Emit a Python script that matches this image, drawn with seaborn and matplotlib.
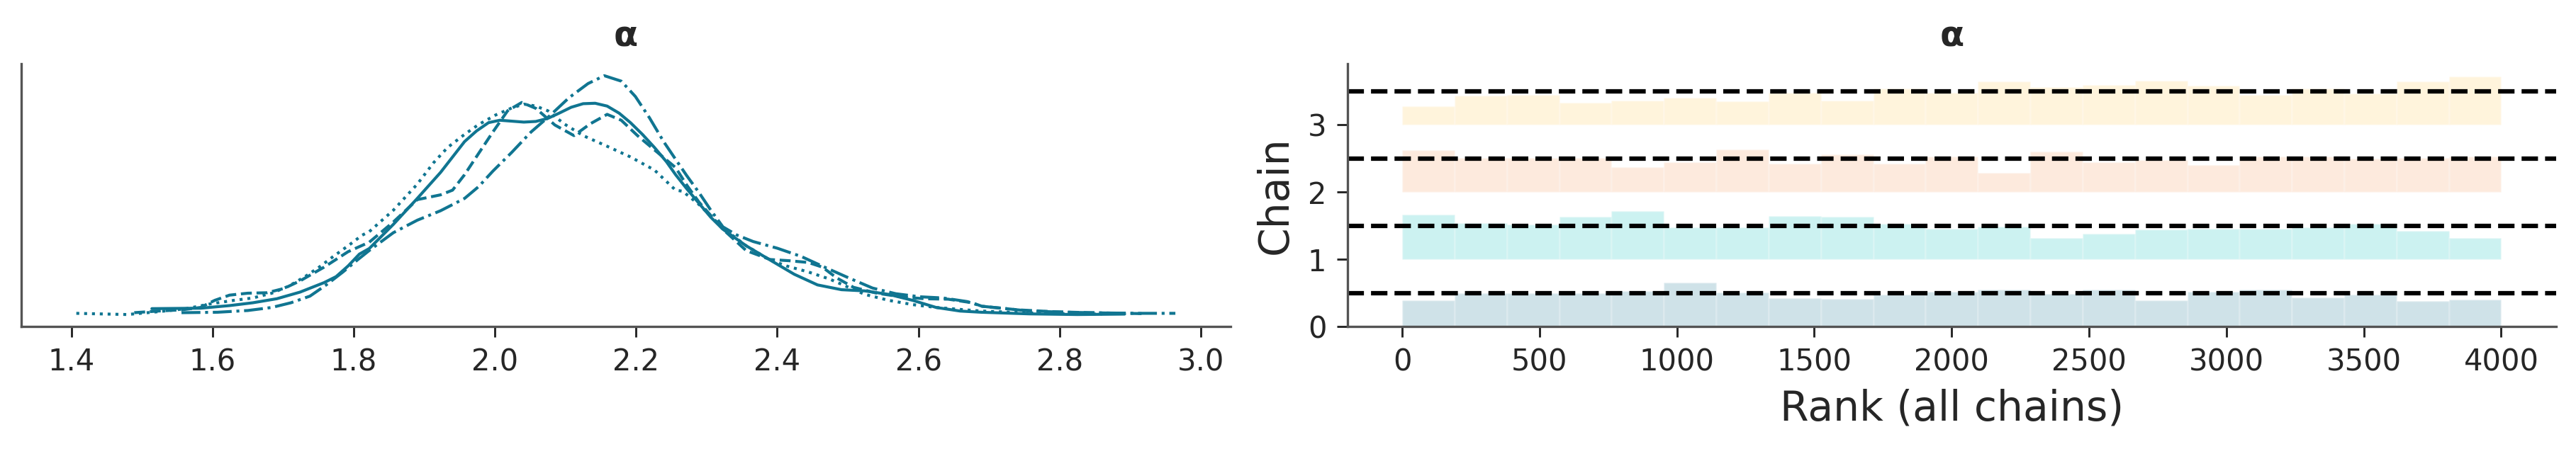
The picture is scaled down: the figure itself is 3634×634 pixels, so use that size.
import matplotlib
matplotlib.use("Agg")
import matplotlib.pyplot as plt
import numpy as np
import pandas as pd
import seaborn as sns

# KDE of alpha per chain
chain0_x = [1.514, 1.583, 1.624, 1.657, 1.691, 1.724, 1.758, 1.775, 1.792, 1.808, 1.822, 1.856, 1.890,
            1.923, 1.957, 1.974, 1.991, 2.007, 2.041, 2.058, 2.075, 2.091, 2.108, 2.125, 2.142, 2.159,
            2.176, 2.192, 2.209, 2.226, 2.243, 2.256, 2.272, 2.289, 2.306, 2.323, 2.356, 2.390, 2.424,
            2.457, 2.491, 2.524, 2.558, 2.592, 2.625, 2.659, 2.689, 2.757, 2.825, 2.892]
chain0_dens = [0.058, 0.062, 0.086, 0.112, 0.149, 0.210, 0.297, 0.352, 0.450, 0.559, 0.610, 0.831, 1.070,
               1.309, 1.592, 1.690, 1.766, 1.788, 1.771, 1.777, 1.805, 1.853, 1.907, 1.940, 1.944, 1.918,
               1.853, 1.766, 1.658, 1.538, 1.407, 1.288, 1.157, 1.026, 0.896, 0.787, 0.635, 0.504, 0.374,
               0.276, 0.232, 0.221, 0.189, 0.134, 0.069, 0.036, 0.025, 0.010, 0.004, 0.008]

chain1_x = [1.489, 1.523, 1.556, 1.583, 1.603, 1.624, 1.650, 1.677, 1.701, 1.724, 1.758, 1.792, 1.822,
            1.856, 1.890, 1.923, 1.940, 1.957, 1.977, 1.997, 2.018, 2.038, 2.058, 2.085, 2.112, 2.135,
            2.159, 2.179, 2.202, 2.226, 2.256, 2.272, 2.289, 2.323, 2.356, 2.390, 2.417, 2.444, 2.464,
            2.484, 2.508, 2.541, 2.575, 2.608, 2.642, 2.676, 2.690, 2.741, 2.791, 2.841, 2.892, 2.920]
chain1_dens = [0.021, 0.036, 0.047, 0.069, 0.134, 0.182, 0.200, 0.204, 0.243, 0.313, 0.439, 0.581, 0.668,
               0.853, 1.059, 1.103, 1.146, 1.288, 1.484, 1.679, 1.875, 1.951, 1.897, 1.744, 1.647, 1.755,
               1.842, 1.788, 1.647, 1.516, 1.353, 1.190, 1.037, 0.787, 0.591, 0.509, 0.498, 0.482, 0.439,
               0.341, 0.254, 0.200, 0.167, 0.149, 0.145, 0.112, 0.080, 0.047, 0.030, 0.021, 0.015, 0.012]

chain2_x = [1.407, 1.439, 1.479, 1.523, 1.563, 1.597, 1.630, 1.657, 1.684, 1.708, 1.731, 1.751, 1.771,
            1.792, 1.812, 1.822, 1.856, 1.890, 1.913, 1.933, 1.957, 1.977, 2.001, 2.024, 2.041, 2.058,
            2.075, 2.098, 2.125, 2.159, 2.192, 2.226, 2.256, 2.266, 2.289, 2.323, 2.356, 2.390, 2.413,
            2.444, 2.474, 2.501, 2.524, 2.558, 2.592, 2.625, 2.659, 2.689, 2.757, 2.820, 2.860]
chain2_dens = [0.015, 0.010, 0.004, 0.030, 0.058, 0.102, 0.134, 0.156, 0.200, 0.265, 0.352, 0.439, 0.537,
               0.635, 0.733, 0.765, 0.961, 1.201, 1.397, 1.538, 1.658, 1.749, 1.836, 1.901, 1.936, 1.918,
               1.875, 1.755, 1.647, 1.549, 1.451, 1.331, 1.146, 1.136, 1.015, 0.798, 0.635, 0.504, 0.450,
               0.395, 0.330, 0.254, 0.189, 0.134, 0.095, 0.069, 0.051, 0.036, 0.019, 0.010, 0.008]

chain3_x = [1.556, 1.607, 1.650, 1.684, 1.711, 1.738, 1.761, 1.785, 1.805, 1.822, 1.856, 1.890, 1.923,
            1.957, 1.977, 1.997, 2.024, 2.051, 2.078, 2.105, 2.132, 2.155, 2.179, 2.199, 2.219, 2.239,
            2.256, 2.272, 2.289, 2.306, 2.323, 2.343, 2.366, 2.400, 2.434, 2.467, 2.501, 2.535, 2.568,
            2.602, 2.635, 2.669, 2.690, 2.724, 2.757, 2.808, 2.858, 2.909, 2.964]
chain3_dens = [0.021, 0.025, 0.041, 0.069, 0.112, 0.173, 0.276, 0.396, 0.504, 0.592, 0.755, 0.870, 0.957,
               1.070, 1.179, 1.320, 1.494, 1.679, 1.831, 1.995, 2.125, 2.197, 2.147, 2.006, 1.810, 1.592,
               1.429, 1.277, 1.125, 0.961, 0.809, 0.733, 0.674, 0.613, 0.537, 0.439, 0.341, 0.247, 0.195,
               0.167, 0.156, 0.123, 0.080, 0.058, 0.036, 0.025, 0.019, 0.015, 0.015]

# Rank histogram counts per chain (21 bins, 1000 draws per chain)
chain0_counts = [37, 47, 47, 47, 50, 62, 48, 40, 39, 45, 49, 52, 46, 52, 37, 49, 52, 41, 45, 36, 38]
chain1_counts = [63, 51, 49, 60, 68, 45, 45, 61, 60, 50, 43, 46, 30, 36, 42, 43, 43, 45, 50, 40, 30]
chain2_counts = [60, 48, 48, 48, 35, 42, 61, 40, 53, 40, 50, 27, 57, 42, 45, 38, 50, 50, 47, 48, 50]
chain3_counts = [27, 42, 43, 32, 35, 39, 34, 46, 35, 52, 46, 62, 54, 57, 63, 56, 43, 52, 45, 62, 69]
n_draws = 1000
n_chains = 4
var_name = "α"

line_color = "#107591"
chain_colors = ["#0f718e", "#00bfb9", "#f59655", "#ffc850"]
line_styles = ["-", "--", ":", "-."]

sns.set_theme(style="ticks", rc={
    "axes.edgecolor": "0.33",
    "axes.linewidth": 0.8,
    "xtick.color": "0.15",
    "ytick.color": "0.15",
    "xtick.major.size": 3.5,
    "ytick.major.size": 3.5,
    "xtick.major.width": 0.7,
    "ytick.major.width": 0.7,
    "xtick.labelsize": 10,
    "ytick.labelsize": 10,
})
plt.rcParams["font.family"] = ["DejaVu Sans"]

fig, (ax_kde, ax_rank) = plt.subplots(1, 2, figsize=(3634 / 300, 634 / 300), dpi=300)
fig.subplots_adjust(left=0.0083, right=0.9923, bottom=0.2729, top=0.858, wspace=0.0967)

# Left: density per chain
kde_frames = []
for i, (xs, ds) in enumerate([(chain0_x, chain0_dens), (chain1_x, chain1_dens),
                              (chain2_x, chain2_dens), (chain3_x, chain3_dens)]):
    kde_frames.append(pd.DataFrame({"x": xs, "density": ds, "chain": i}))
df_kde = pd.concat(kde_frames, ignore_index=True)

for i in range(n_chains):
    sub = df_kde[df_kde["chain"] == i]
    sns.lineplot(data=sub, x="x", y="density", ax=ax_kde, color=line_color,
                 linestyle=line_styles[i], linewidth=1.0, sort=False, estimator=None)

ax_kde.set_yticks([])
ax_kde.set_xlabel("")
ax_kde.set_ylabel("")
ax_kde.set_title(var_name, fontsize=12, fontweight="bold")

# Right: rank bars
all_counts = np.array([chain0_counts, chain1_counts, chain2_counts, chain3_counts], dtype=float)
n_bins = all_counts.shape[1]
n_ranks = n_draws * n_chains
edges = np.linspace(0, n_ranks, n_bins + 1)
width = edges[1] - edges[0]
expected = n_draws / n_bins
norm = 2 * expected

for i, counts in enumerate(all_counts):
    ax_rank.bar(edges[:-1], counts / norm, width=width, bottom=i, align="edge",
                color=chain_colors[i], alpha=0.2, edgecolor="white", linewidth=0.6)
    ax_rank.axhline(i + expected / norm, color="black", linestyle="--", linewidth=1.5)

ax_rank.set_yticks(range(n_chains))
ax_rank.set_ylabel("Chain", fontsize=14)
ax_rank.set_xlabel("Rank (all chains)", fontsize=14)
ax_rank.set_title(var_name, fontsize=12, fontweight="bold")

sns.despine(fig=fig)

fig.savefig("out.png", dpi=300)
